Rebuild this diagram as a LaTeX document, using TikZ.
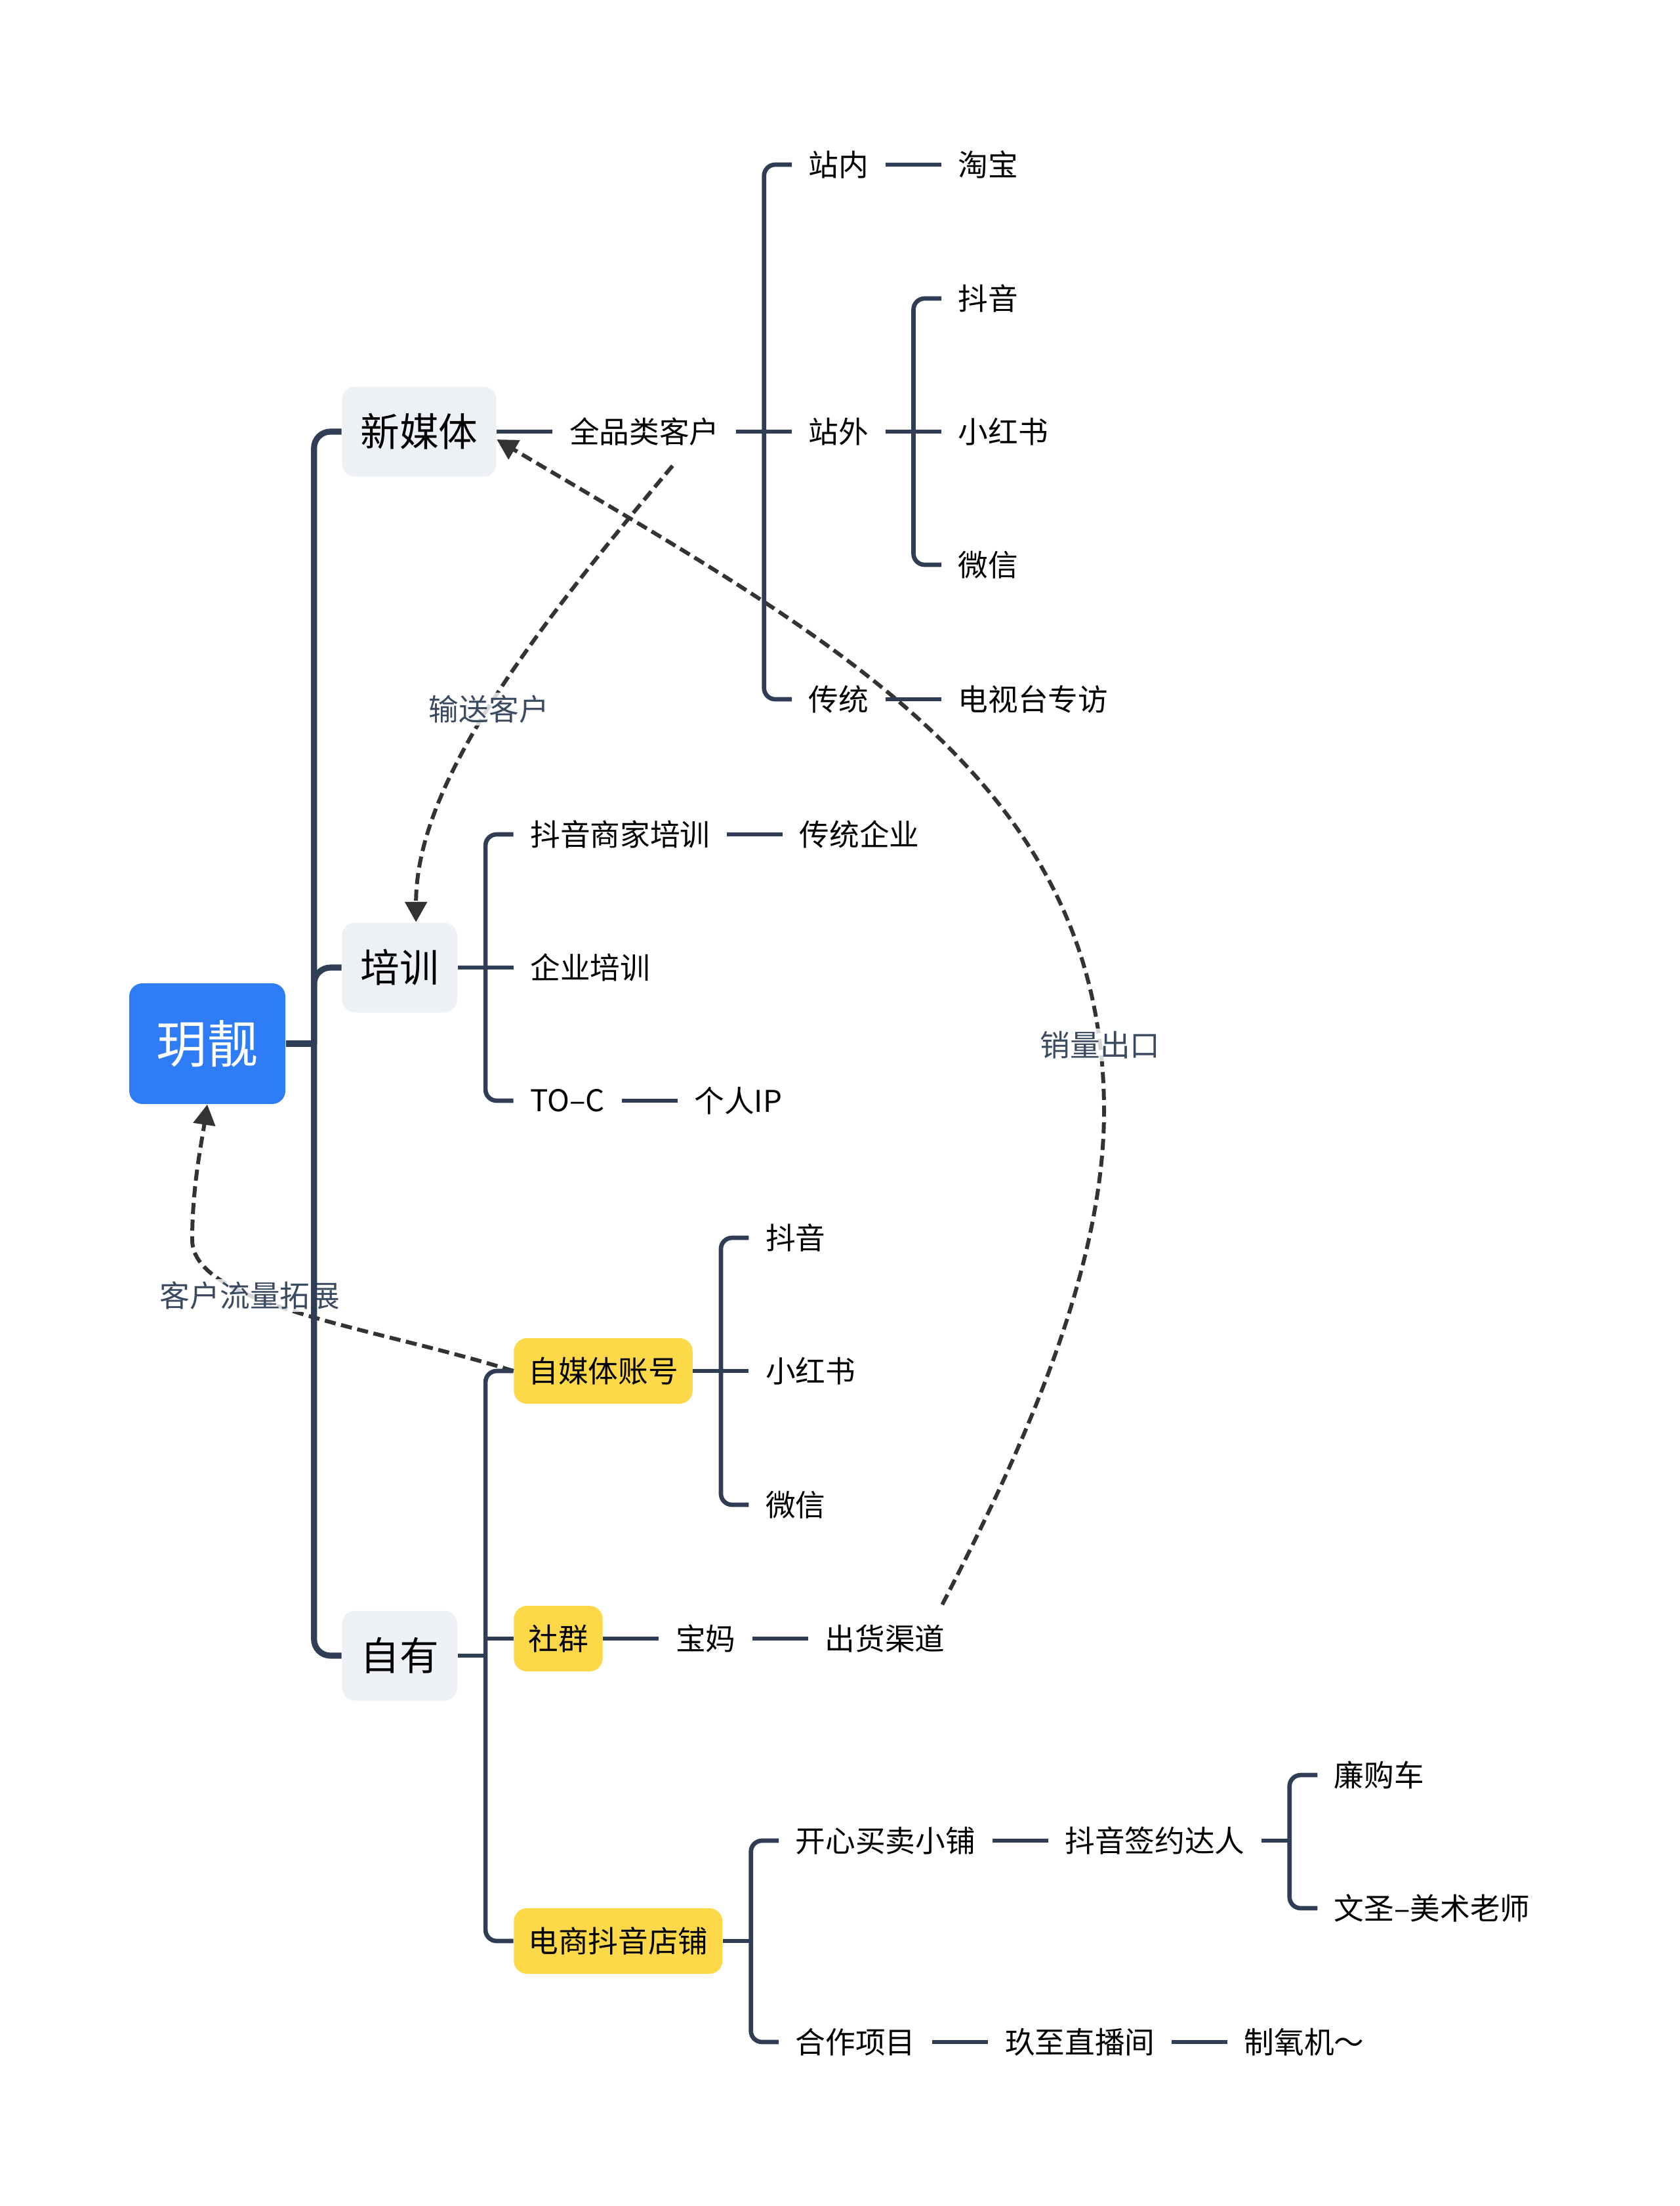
\documentclass[tikz,border=0pt]{standalone}
\usepackage{fontspec}
\setmainfont{Noto Sans CJK SC}
\usetikzlibrary{arrows.meta,positioning,calc}
\definecolor{rootblue}{RGB}{46,124,246}
\definecolor{topicgray}{RGB}{237,240,244}
\definecolor{tagyellow}{RGB}{253,217,74}
\definecolor{lineslate}{RGB}{47,62,85}
\definecolor{linkgray}{RGB}{51,51,51}
\definecolor{labelslate}{RGB}{58,74,96}
\tikzset{
    rootbox/.style={fill=rootblue, rounded corners=2mm, text=white,
        font=\fontsize{22}{26}\selectfont, minimum width=2.38cm, minimum height=1.84cm},
    topicbox/.style={fill=topicgray, rounded corners=2mm, font=\fontsize{17}{20}\selectfont,
        inner xsep=2.8mm, minimum height=1.37cm},
    tagbox/.style={fill=tagyellow, rounded corners=2mm, font=\fontsize{13}{15}\selectfont,
        inner xsep=2.2mm, minimum height=1cm},
    leaftext/.style={font=\fontsize{13}{15}\selectfont, inner xsep=2.5mm, inner ysep=3mm},
    treeline/.style={draw=lineslate, line width=1.9pt, rounded corners=1.7mm},
    trunkline/.style={draw=lineslate, line width=2.6pt, rounded corners=2.5mm},
    linkarrow/.style={draw=linkgray, line width=1.7pt, dash pattern=on 1.7mm off 0.85mm,
        -{Triangle[length=3.1mm, width=3.3mm]}},
    linklabel/.style={font=\fontsize{13}{15}\selectfont, text=labelslate, fill=white,
        fill opacity=0.8, text opacity=1, inner sep=1pt}
}

\begin{document}
\begin{tikzpicture}[node distance=0.85cm]
\useasboundingbox (0,0) rectangle (25.6,-33.63);
% centre and main topics
\node[rootbox] (root) at (3.16,-15.91) {玥靓};
\node[topicbox, right=of root, yshift=9.33cm] (xmt) {新媒体};
\node[topicbox, right=of root, yshift=1.16cm] (px) {培训};
\node[topicbox, right=of root, yshift=-9.33cm] (zy) {自有};

% 新媒体
\node[leaftext, right=of xmt] (qpl) {全品类客户};
\node[leaftext, right=of qpl, yshift=4.07cm] (zn) {站内};
\node[leaftext, right=of qpl] (zw) {站外};
\node[leaftext, right=of qpl, yshift=-4.08cm] (ct) {传统};
\node[leaftext, right=of zn] (tb) {淘宝};
\node[leaftext, right=of zw, yshift=2.03cm] (dy1) {抖音};
\node[leaftext, right=of zw] (xhs1) {小红书};
\node[leaftext, right=of zw, yshift=-2.03cm] (wx1) {微信};
\node[leaftext, right=of ct] (dst) {电视台专访};

% 培训
\node[leaftext, right=of px, yshift=2.03cm] (dysj) {抖音商家培训};
\node[leaftext, right=of px] (qypx) {企业培训};
\node[leaftext, right=of px, yshift=-2.03cm] (toc) {TO–C};
\node[leaftext, right=of dysj] (ctqy) {传统企业};
\node[leaftext, right=of toc] (grip) {个人IP};

% 自有
\node[tagbox, right=of zy, yshift=4.34cm] (zmt) {自媒体账号};
\node[tagbox, right=of zy, yshift=0.26cm] (sq) {社群};
\node[tagbox, right=of zy, yshift=-4.35cm] (dsdp) {电商抖音店铺};
\node[leaftext, right=of zmt, yshift=2.03cm] (dy2) {抖音};
\node[leaftext, right=of zmt] (xhs2) {小红书};
\node[leaftext, right=of zmt, yshift=-2.04cm] (wx2) {微信};
\node[leaftext, right=of sq] (bm) {宝妈};
\node[leaftext, right=of bm] (chqd) {出货渠道};
\node[leaftext, right=of dsdp, yshift=1.53cm] (kx) {开心买卖小铺};
\node[leaftext, right=of dsdp, yshift=-1.54cm] (hz) {合作项目};
\node[leaftext, right=of kx] (dyqy) {抖音签约达人};
\node[leaftext, right=of dyqy, yshift=1.0cm] (lgc) {廉购车};
\node[leaftext, right=of dyqy, yshift=-1.03cm] (ws) {文圣–美术老师};
\node[leaftext, right=of hz] (jz) {玖至直播间};
\node[leaftext, right=of jz] (zyj) {制氧机～};

% dashed links
\coordinate (salesbend) at (16.83,-16.94);
\coordinate (flowbend) at (2.93,-18.9);
\draw[linkarrow] ([xshift=4.3mm]qpl.south) .. controls +(-2.25,-2.67) and +(0,2.06) .. ([xshift=2.5mm]px.north)
    node[linklabel, pos=0.5] {输送客户};
\draw[linkarrow] ([xshift=-3mm]chqd.north east) .. controls +(1.15,2.22) and +(0,-2.5) .. (salesbend)
    .. controls +(0,5) and +(5.16,-3.06) .. ([yshift=-1.2mm]xmt.east) node[linklabel, pos=0.07] {销量出口};
\draw[linkarrow] (zmt.west) .. controls +(-2.09,0.66) and +(0,-1.0) .. (flowbend) node[linklabel, pos=0.65] {客户流量拓展}
    .. controls +(0,0.8) and +(-0.09,-0.6) .. (root.south);

% tree lines
\draw[trunkline] (root.east) -- ++(0.43,0) coordinate (jroot);
\foreach \t in {xmt,px,zy}
    \draw[trunkline] (jroot) |- (\t.west);
\foreach \a/\b in {xmt/qpl, zn/tb, ct/dst, dysj/ctqy, toc/grip, sq/bm, bm/chqd, kx/dyqy, hz/jz, jz/zyj}
    \draw[treeline] (\a.east) -- (\b.west);
\foreach \p/\t/\m/\b in {qpl/zn/zw/ct, zw/dy1/xhs1/wx1, px/dysj/qypx/toc, zmt/dy2/xhs2/wx2} {
    \draw[treeline] (\p.east) -- (\m.west);
    \draw[treeline] (\t.west) -| ($(\p.east)!0.5!(\m.west)$) |- (\b.west);
}
\draw[treeline] (zy.east) -- ++(0.425,0) coordinate (jzy);
\draw[treeline] (zmt.west) -| (jzy) |- (dsdp.west);
\draw[treeline] (sq.west) -- (sq.west -| jzy);
\draw[treeline] (dsdp.east) -- ++(0.425,0) coordinate (jds);
\draw[treeline] (kx.west) -| (jds) |- (hz.west);
\draw[treeline] (dyqy.east) -- ++(0.425,0) coordinate (jqy);
\draw[treeline] (lgc.west) -| (jqy) |- (ws.west);
\end{tikzpicture}
\end{document}
